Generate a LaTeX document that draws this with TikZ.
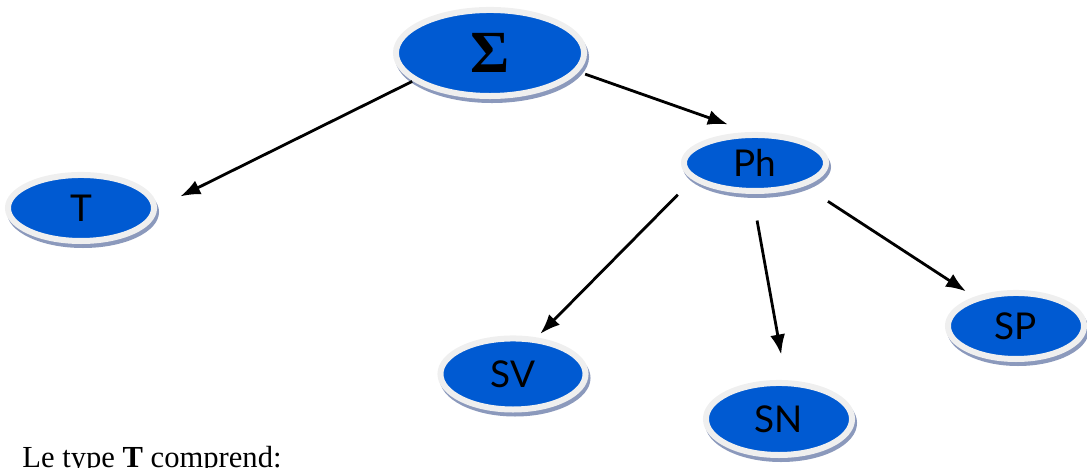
\documentclass[tikz,border=0pt]{standalone}
\usepackage{fontspec}
\setmainfont{Liberation Serif}
\newfontfamily\bullefont{Lato}
\usetikzlibrary{shapes.geometric,arrows.meta}
\definecolor{bleu}{HTML}{005AD2}
\definecolor{anneau}{HTML}{EFEFEF}
\definecolor{ombre}{HTML}{8B99BC}
\tikzstyle{bulle} = [ellipse, fill=bleu, draw=anneau, line width=0.06cm, inner sep=0pt, font=\bullefont\fontsize{10.5}{12}\selectfont]
\tikzstyle{ombrage} = [fill=ombre]
\tikzstyle{fleche} = [-{Latex[length=0.2cm,width=0.15cm]}, line width=0.8pt]
\begin{document}
\begin{tikzpicture}[x=0.01cm,y=-0.01cm]
\useasboundingbox (0,0) rectangle (1087,468);
\fill[ombrage] (492,57) ellipse [x radius=0.97cm, y radius=0.46cm];
\fill[ombrage] (83,212) ellipse [x radius=0.76cm, y radius=0.36cm];
\fill[ombrage] (757,167) ellipse [x radius=0.74cm, y radius=0.31cm];
\fill[ombrage] (515,378) ellipse [x radius=0.755cm, y radius=0.385cm];
\fill[ombrage] (781,423) ellipse [x radius=0.76cm, y radius=0.39cm];
\fill[ombrage] (1018,330) ellipse [x radius=0.71cm, y radius=0.36cm];
\node[bulle, minimum width=1.88cm, minimum height=0.86cm, font=\fontsize{17}{19}\selectfont\bfseries] (sigma) at (490,53) {Σ};
\node[bulle, minimum width=1.46cm, minimum height=0.66cm] (t) at (81,208) {T};
\node[bulle, minimum width=1.42cm, minimum height=0.56cm] (ph) at (755,163) {Ph};
\node[bulle, minimum width=1.45cm, minimum height=0.71cm] (sv) at (513,374) {SV};
\node[bulle, minimum width=1.46cm, minimum height=0.72cm] (sn) at (779,419) {SN};
\node[bulle, minimum width=1.36cm, minimum height=0.66cm] (sp) at (1016,326) {SP};
\draw[fleche, shorten <=0.01cm, shorten >=0.26cm] (sigma.200) -- (t.0);
\draw[fleche, shorten <=0.07cm, shorten >=0.23cm] (sigma.-12) -- (ph.100);
\draw[fleche, shorten <=0.21cm, shorten >=0.05cm] (ph.195) -- (sv.57);
\draw[fleche, shorten <=0.27cm, shorten >=0.26cm] (ph.265) -- (sn.80);
\draw[fleche, shorten <=0.28cm, shorten >=0.10cm] (ph.-25) -- (sp.145);
\node[anchor=base west, font=\fontsize{8.7}{10}\selectfont] (legende) at (10,468) {Le type \textbf{T} comprend:};
\end{tikzpicture}
\end{document}
